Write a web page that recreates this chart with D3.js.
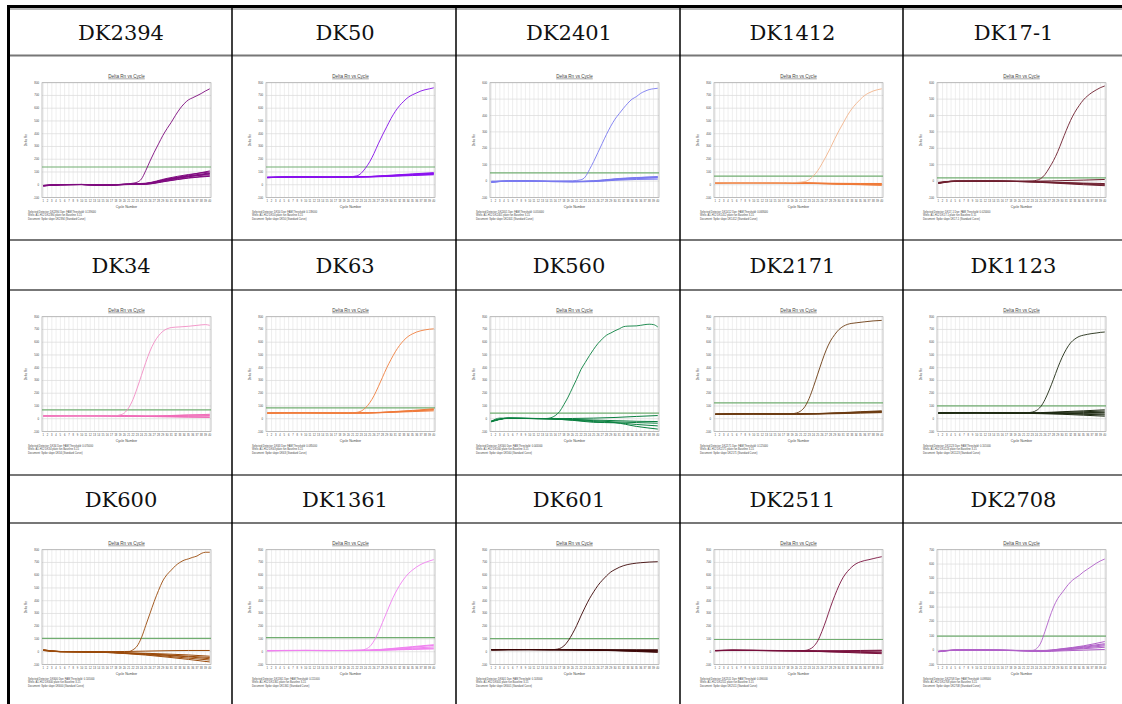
<!DOCTYPE html>
<html>
<head>
<meta charset="utf-8">
<script src="https://cdn.jsdelivr.net/npm/d3@7"></script>
<style>
  body { margin: 0; background: #fff; }
  svg { display: block; }
  .hdr { font-family: "DejaVu Serif", serif; font-size: 21px; fill: #111; }
  .tiny { font-family: "Liberation Sans", Arial, sans-serif; fill: #444; }
</style>
</head>
<body>
<svg id="chart"></svg>
<script>
// sample names, row by row
const samples = ["DK2394", "DK50", "DK2401", "DK1412", "DK17-1",
                 "DK34", "DK63", "DK560", "DK2171", "DK1123",
                 "DK600", "DK1361", "DK601", "DK2511", "DK2708"];

// colour of the positive trace and of the negative traces
const posColors = ["#7d0a7d", "#8410e8", "#7b7bf0", "#f2b48c", "#6e1e2e",
                   "#f28cc4", "#f08040", "#0a8040", "#6b3a10", "#1e2a12",
                   "#9a4a0a", "#f080f0", "#3c0606", "#78103c", "#b060c8"];
const negColors = ["#800a80", "#8a10f0", "#7878f0", "#f07a38", "#6e1e2e",
                   "#f06cb8", "#f07a3a", "#0a8040", "#6b3a10", "#1e2a12",
                   "#9a4a0a", "#f080f0", "#3c0606", "#78103c", "#b060c8"];

// y axis top value and threshold per plot
const yMaxes = [800, 800, 600, 800, 600, 800, 800, 800, 800, 800, 800, 800, 800, 800, 700];
const thresholds = [139, 139, 50, 68, 20, 70, 85, 44, 125, 101, 105, 111, 103, 96, 98];

// positive sample curves: [cycle, delta Rn]
const posCurves = [
  [[1,-8],[5,0],[10,2],[15,-4],[20,5],[22,12],[23,20],[24,45],[25,110],[26,185],[27,255],[28,320],[29,385],[30,440],[31,490],[32,545],[33,595],[34,635],[35,665],[36,682],[37,698],[38,715],[39,735],[40,752]],
  [[1,60],[10,60],[20,62],[22,70],[23,90],[24,130],[25,180],[26,245],[27,320],[28,390],[29,455],[30,520],[31,575],[32,620],[33,655],[34,685],[35,705],[36,720],[37,735],[38,745],[39,752],[40,760]],
  [[1,0],[10,0],[20,2],[22,8],[23,25],[24,70],[25,120],[26,175],[27,230],[28,285],[29,335],[30,378],[31,412],[32,445],[33,475],[34,500],[35,515],[36,535],[37,548],[38,558],[39,563],[40,566]],
  [[1,15],[15,15],[20,18],[22,25],[23,40],[24,70],[25,110],[26,165],[27,225],[28,290],[29,360],[30,425],[31,485],[32,545],[33,595],[34,635],[35,670],[36,700],[37,720],[38,735],[39,745],[40,752]],
  [[1,-12],[5,0],[10,0],[15,0],[20,-2],[23,0],[24,5],[25,15],[26,40],[27,80],[28,125],[29,180],[30,245],[31,310],[32,370],[33,420],[34,460],[35,495],[36,520],[37,540],[38,556],[39,570],[40,580]],
  [[1,20],[10,23],[15,22],[18,24],[19,30],[20,45],[21,85],[22,150],[23,240],[24,340],[25,440],[26,530],[27,600],[28,650],[29,685],[30,705],[31,715],[33,720],[35,725],[37,732],[39,738],[40,732]],
  [[1,44],[10,46],[15,45],[20,46],[22,50],[23,60],[24,85],[25,125],[26,180],[27,250],[28,325],[29,400],[30,465],[31,525],[32,575],[33,615],[34,645],[35,665],[36,680],[37,690],[38,697],[39,702],[40,705]],
  [[1,-20],[3,5],[8,3],[12,0],[14,2],[15,8],[16,25],[17,56],[18,110],[19,170],[20,240],[21,310],[22,385],[23,440],[24,495],[25,545],[26,590],[27,625],[28,655],[29,672],[30,690],[31,705],[32,722],[33,726],[35,728],[37,738],[38,741],[39,738],[40,720]],
  [[1,35],[10,38],[15,37],[19,40],[20,45],[21,60],[22,95],[23,160],[24,250],[25,350],[26,450],[27,540],[28,610],[29,660],[30,700],[31,725],[32,740],[34,752],[36,760],[38,767],[40,771]],
  [[1,44],[10,46],[15,45],[20,46],[22,48],[23,52],[24,65],[25,95],[26,150],[27,225],[28,310],[29,400],[30,480],[31,545],[32,595],[33,625],[34,645],[35,655],[36,662],[37,668],[38,672],[39,677],[40,680]],
  [[1,15],[5,2],[10,0],[15,0],[20,-2],[21,0],[22,15],[23,45],[24,110],[25,205],[26,300],[27,395],[28,480],[29,555],[30,605],[31,640],[32,675],[33,700],[34,718],[35,728],[36,740],[37,750],[38,770],[39,780],[40,780]],
  [[1,8],[10,10],[15,9],[20,10],[23,12],[24,20],[25,40],[26,85],[27,150],[28,230],[29,310],[30,390],[31,460],[32,520],[33,570],[34,610],[35,640],[36,665],[37,685],[38,700],[39,712],[40,722]],
  [[1,15],[10,17],[15,16],[16,18],[17,25],[18,45],[19,85],[20,140],[21,205],[22,280],[23,350],[24,415],[25,470],[26,520],[27,560],[28,595],[29,625],[30,645],[31,662],[32,675],[34,690],[36,698],[38,703],[40,706]],
  [[1,8],[10,12],[15,10],[20,8],[22,10],[23,18],[24,40],[25,85],[26,160],[27,250],[28,350],[29,440],[30,520],[31,585],[32,630],[33,665],[34,690],[35,705],[36,715],[37,722],[38,730],[39,738],[40,745]],
  [[1,-10],[5,0],[10,2],[15,0],[20,-3],[23,-2],[24,10],[25,50],[26,130],[27,220],[28,300],[29,360],[30,400],[31,440],[32,475],[33,500],[34,520],[35,545],[36,565],[37,585],[38,605],[39,622],[40,635]]
];

// negative sample curves, values at these cycles
const negCycles = [1, 5, 10, 15, 20, 25, 30, 35, 40];
const negCurves = [
  [[-10,0,2,-3,3,10,45,75,108],[-8,1,2,-2,4,12,50,80,100],[-6,0,1,-4,2,8,40,70,92],[-9,-1,2,-5,1,6,35,65,85],
   [-7,0,3,-3,3,9,42,66,78],[-5,1,2,-2,2,5,30,55,70],[-8,0,1,-4,1,4,28,52,66],[-6,1,2,-3,3,7,38,62,88]],
  [[55,60,62,60,62,65,75,85,95],[58,60,61,59,61,63,70,80,88],[56,59,60,58,60,62,68,76,82],[57,61,62,60,61,64,72,82,90],
   [55,60,60,59,60,61,66,72,78],[58,60,61,60,62,64,71,79,86]],
  [[-8,0,1,-2,-3,0,12,20,28],[-5,1,0,-3,-4,-2,8,15,20],[-6,0,1,-2,-2,2,14,22,25],[-4,1,0,-3,-5,-3,5,10,12],[-7,0,1,-2,-3,1,10,18,22]],
  [[12,15,15,14,15,12,8,6,5],[14,15,16,15,14,10,5,2,0],[13,15,15,15,15,13,11,10,10],[15,16,15,14,13,9,4,0,-5],[12,15,15,15,14,11,8,7,6]],
  [[-15,-2,0,0,0,0,3,6,10],[-10,0,0,0,-2,-5,-10,-15,-20],[-12,0,0,0,-3,-8,-15,-22,-28],[-8,0,0,-1,-2,-4,-8,-12,-15],[-14,-1,0,0,-3,-6,-12,-18,-24]],
  [[20,23,24,23,22,20,22,28,35],[22,23,23,22,21,18,15,12,10],[21,24,24,23,22,21,24,30,30],[23,23,23,22,21,19,18,16,15],[20,22,23,23,22,20,20,22,25]],
  [[44,46,46,45,45,46,52,60,72],[45,46,47,46,45,47,55,65,78],[43,45,46,45,44,45,50,56,62],[46,47,46,45,45,46,53,62,70]],
  [[-20,5,2,0,2,5,10,18,25],[-25,3,3,0,-5,-10,-15,-20,-22],[-18,4,2,0,-8,-15,-25,-30,-35],[-22,5,3,-2,-10,-22,-30,-45,-56],[-20,4,2,-1,-12,-28,-32,-60,-81]],
  [[36,38,38,37,38,40,45,52,58],[35,37,38,37,37,39,43,48,52],[37,38,39,38,38,41,47,55,62],[36,38,38,37,36,37,40,44,48],[35,37,38,38,37,39,44,50,55]],
  [[44,46,47,46,46,48,55,62,70],[45,46,46,45,44,42,40,35,30],[44,46,46,45,45,46,50,55,60],[46,47,46,45,43,40,35,28,20],[45,46,47,46,45,44,45,48,50],[44,46,46,45,44,43,42,40,38]],
  [[15,2,0,0,2,5,8,10,10],[10,0,-2,-4,-8,-12,-18,-25,-35],[12,1,-1,-3,-10,-18,-28,-40,-55],[14,0,-2,-5,-12,-22,-35,-50,-65],[10,0,-1,-4,-14,-26,-42,-60,-80],[13,1,0,-3,-9,-15,-25,-35,-45]],
  [[8,10,10,9,10,12,22,35,50],[9,10,11,10,10,11,18,28,38],[8,9,10,10,9,10,15,22,28],[10,10,10,9,10,13,25,40,55],[9,10,10,10,9,10,14,18,22]],
  [[15,17,17,16,15,12,10,8,5],[16,17,17,16,16,15,14,13,12],[15,16,17,16,15,13,8,2,-5],[17,17,17,16,15,14,12,10,8],[15,17,16,16,15,13,10,5,0],[16,17,17,17,16,15,15,15,15]],
  [[8,12,10,9,8,6,5,5,8],[10,12,10,8,6,2,-2,-5,-8],[9,11,10,9,8,5,2,0,-2],[8,11,10,8,6,3,-3,-10,-15],[10,12,11,9,8,7,8,10,12]],
  [[-10,0,2,0,-3,-5,10,30,60],[-8,1,2,0,-2,-3,8,25,45],[-12,0,1,-1,-4,-8,0,15,30],[-9,0,2,0,-3,-6,5,20,38],[-10,1,2,0,-3,-10,-5,0,5],[-8,0,1,-1,-4,-7,2,10,20]]
];

const cycles = d3.range(1, 41);
const yMin = -100;

// table geometry
const W = 1122, H = 704;
const colX = [8, 232, 456, 680, 903, 1122];
const headRows = [[8, 55.5], [240, 290], [475, 523]];
const plotRows = [56, 290, 523];
const plot = { left: 34, right: 203, top: 26.7, bottom: 141.5 };

const svg = d3.select("#chart").attr("width", W).attr("height", H);

// table cell lines
headRows.forEach(([y0, y1]) => {
  svg.append("line").attr("x1", colX[0]).attr("x2", W).attr("y1", y0 === 8 ? 9 : y0).attr("y2", y0 === 8 ? 9 : y0)
    .attr("stroke", "#777").attr("stroke-width", y0 === 8 ? 1 : 2);
  svg.append("line").attr("x1", colX[0]).attr("x2", W).attr("y1", y1).attr("y2", y1)
    .attr("stroke", "#777").attr("stroke-width", 2);
});
colX.slice(1, 5).forEach(x => {
  svg.append("line").attr("x1", x).attr("x2", x).attr("y1", 6).attr("y2", H)
    .attr("stroke", "#000").attr("stroke-width", 1.5);
});
svg.append("rect").attr("x", 7).attr("y", 5).attr("width", W - 7).attr("height", 3).attr("fill", "#000");
svg.append("rect").attr("x", 7).attr("y", 5).attr("width", 3).attr("height", H - 5).attr("fill", "#000");

// header labels
samples.forEach((name, i) => {
  const r = Math.floor(i / 5), c = i % 5;
  const [y0, y1] = headRows[r];
  svg.append("text").attr("class", "hdr")
    .attr("x", (colX[c] + colX[c + 1]) / 2 + 1)
    .attr("y", (y0 + y1) / 2 + 8)
    .attr("text-anchor", "middle")
    .text(name);
});

const line = d3.line().curve(d3.curveMonotoneX);

samples.forEach((name, i) => {
  const r = Math.floor(i / 5), c = i % 5;
  const g = svg.append("g").attr("transform", `translate(${colX[c]},${plotRows[r]})`);

  const x = d3.scaleLinear().domain([0.7, 40.3]).range([plot.left, plot.right]);
  const y = d3.scaleLinear().domain([yMin, yMaxes[i]]).range([plot.bottom, plot.top]);
  const yTicks = d3.range(yMin, yMaxes[i] + 1, 100);

  // title
  const cx = (plot.left + plot.right) / 2;
  g.append("text").attr("class", "tiny").attr("x", cx).attr("y", plot.top - 5)
    .attr("text-anchor", "middle").attr("font-size", 4.6).attr("fill", "#222")
    .attr("text-decoration", "underline").text("Delta Rn vs Cycle");

  // grid
  g.append("g").selectAll("line").data(yTicks).join("line")
    .attr("x1", plot.left).attr("x2", plot.right)
    .attr("y1", d => y(d)).attr("y2", d => y(d))
    .attr("stroke", "#d4d4d4").attr("stroke-width", 0.6);
  g.append("g").selectAll("line").data(cycles).join("line")
    .attr("x1", d => x(d)).attr("x2", d => x(d))
    .attr("y1", plot.top).attr("y2", plot.bottom)
    .attr("stroke", "#dcdcdc").attr("stroke-width", 0.5);
  g.append("rect").attr("x", plot.left).attr("y", plot.top)
    .attr("width", plot.right - plot.left).attr("height", plot.bottom - plot.top)
    .attr("fill", "none").attr("stroke", "#aaa").attr("stroke-width", 0.7);

  // tick labels
  g.append("g").selectAll("text").data(yTicks).join("text").attr("class", "tiny")
    .attr("x", plot.left - 3).attr("y", d => y(d) + 1)
    .attr("text-anchor", "end").attr("font-size", 2.8).text(d => d);
  g.append("g").selectAll("text").data(cycles).join("text").attr("class", "tiny")
    .attr("x", d => x(d)).attr("y", plot.bottom + 4.5)
    .attr("text-anchor", "middle").attr("font-size", 2.6).text(d => d);

  g.append("text").attr("class", "tiny").attr("x", cx).attr("y", plot.bottom + 10)
    .attr("text-anchor", "middle").attr("font-size", 3.4).text("Cycle Number");
  g.append("text").attr("class", "tiny")
    .attr("transform", `translate(${plot.left - 15},${(plot.top + plot.bottom) / 2}) rotate(-90)`)
    .attr("text-anchor", "middle").attr("font-size", 3.2).text("Delta Rn");

  // footer notes
  const notes = [
    `Selected Detector: ${name}  Dye: FAM  Threshold: ${(thresholds[i] / 1000).toFixed(6)}`,
    `Wells: A1-H12 ${name} plate run  Baseline 3-15`,
    `Document: Spike slope ${name} (Standard Curve)`
  ];
  g.append("g").selectAll("text").data(notes).join("text").attr("class", "tiny")
    .attr("x", plot.left - 14).attr("y", (d, k) => plot.bottom + 15 + k * 3.6)
    .attr("font-size", 2.6).text(d => d);

  // threshold
  g.append("line").attr("x1", plot.left).attr("x2", plot.right)
    .attr("y1", y(thresholds[i])).attr("y2", y(thresholds[i]))
    .attr("stroke", "#70ad70").attr("stroke-width", 1.2);

  // negatives
  negCurves[i].forEach(vals => {
    g.append("path")
      .attr("d", line(vals.map((v, k) => [x(negCycles[k]), y(v)])))
      .attr("fill", "none").attr("stroke", negColors[i]).attr("stroke-width", 1);
  });
  // positive
  g.append("path")
    .attr("d", line(posCurves[i].map(([cy, v]) => [x(cy), y(v)])))
    .attr("fill", "none").attr("stroke", posColors[i]).attr("stroke-width", 0.9);
});
</script>
</body>
</html>
